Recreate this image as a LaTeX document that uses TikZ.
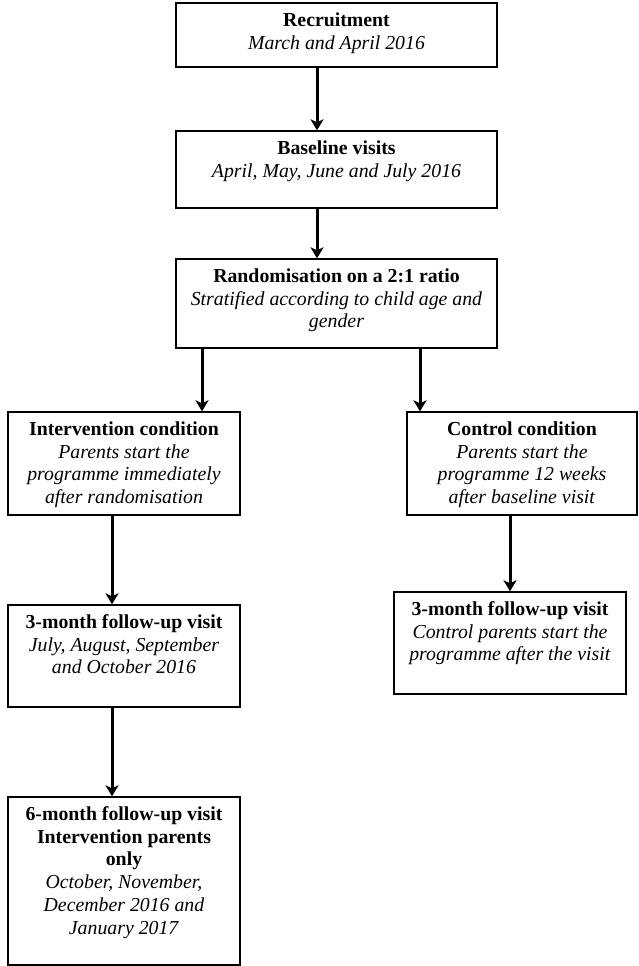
\documentclass[tikz,border=0pt]{standalone}
\usepackage{fontspec}
\setmainfont{Liberation Serif}
\usetikzlibrary{arrows.meta}
\newcommand{\bxt}[3]{\parbox[c][#2][t]{#1}{\centering\vspace*{7.6pt}\strut #3}}
\begin{document}
\begin{tikzpicture}[x=1pt,y=-1pt,
  flowbox/.style={draw, line width=1.4pt, inner sep=0pt, fill=white,
    font=\fontsize{19.8}{22.7}\selectfont},
  arr/.style={line width=3pt, -{Stealth[length=11pt,width=13pt,inset=3pt]}}]
\useasboundingbox (0,0) rectangle (638,966);
\node[flowbox] (rec) at (336.5,35)
  {\bxt{321pt}{64pt}{\textbf{Recruitment}\\\textit{March and April 2016}}};
\node[flowbox] (base) at (336.5,169.5)
  {\bxt{321pt}{77pt}{\textbf{Baseline visits}\\\textit{April, May, June and July 2016}}};
\node[flowbox] (rand) at (336.5,303.5)
  {\bxt{321pt}{89pt}{\textbf{Randomisation on a 2:1 ratio}\\\textit{Stratified according to child age and}\\\textit{gender}}};
\node[flowbox] (int) at (124,463.5)
  {\bxt{232pt}{103pt}{\textbf{Intervention condition}\\\textit{Parents start the}\\\textit{programme immediately}\\\textit{after randomisation}}};
\node[flowbox] (ctl) at (522,463.5)
  {\bxt{230pt}{103pt}{\textbf{Control condition}\\\textit{Parents start the}\\\textit{programme 12 weeks}\\\textit{after baseline visit}}};
\node[flowbox] (ctlf) at (510,643)
  {\bxt{232pt}{102pt}{\textbf{3-month follow-up visit}\\\textit{Control parents start the}\\\textit{programme after the visit}}};
\node[flowbox] (intf) at (124,656)
  {\bxt{232pt}{102pt}{\textbf{3-month follow-up visit}\\\textit{July, August, September}\\\textit{and October 2016}}};
\node[flowbox] (six) at (124,881)
  {\bxt{232pt}{168pt}{\textbf{6-month follow-up visit}\\\textbf{Intervention parents}\\\textbf{only}\\\textit{October, November,}\\\textit{December 2016 and}\\\textit{January 2017}}};
\draw[arr] (rec.south -| 317,0) -- (base.north -| 317,0);
\draw[arr] (base.south -| 317,0) -- (rand.north -| 317,0);
\draw[arr] (rand.south -| 202,0) -- (int.north -| 202,0);
\draw[arr] (rand.south -| 420,0) -- (ctl.north -| 420,0);
\draw[arr] (int.south -| 112,0) -- (intf.north -| 112,0);
\draw[arr] (ctl.south -| 510,0) -- (ctlf.north -| 510,0);
\draw[arr] (intf.south -| 112,0) -- (six.north -| 112,0);
\end{tikzpicture}
\end{document}
